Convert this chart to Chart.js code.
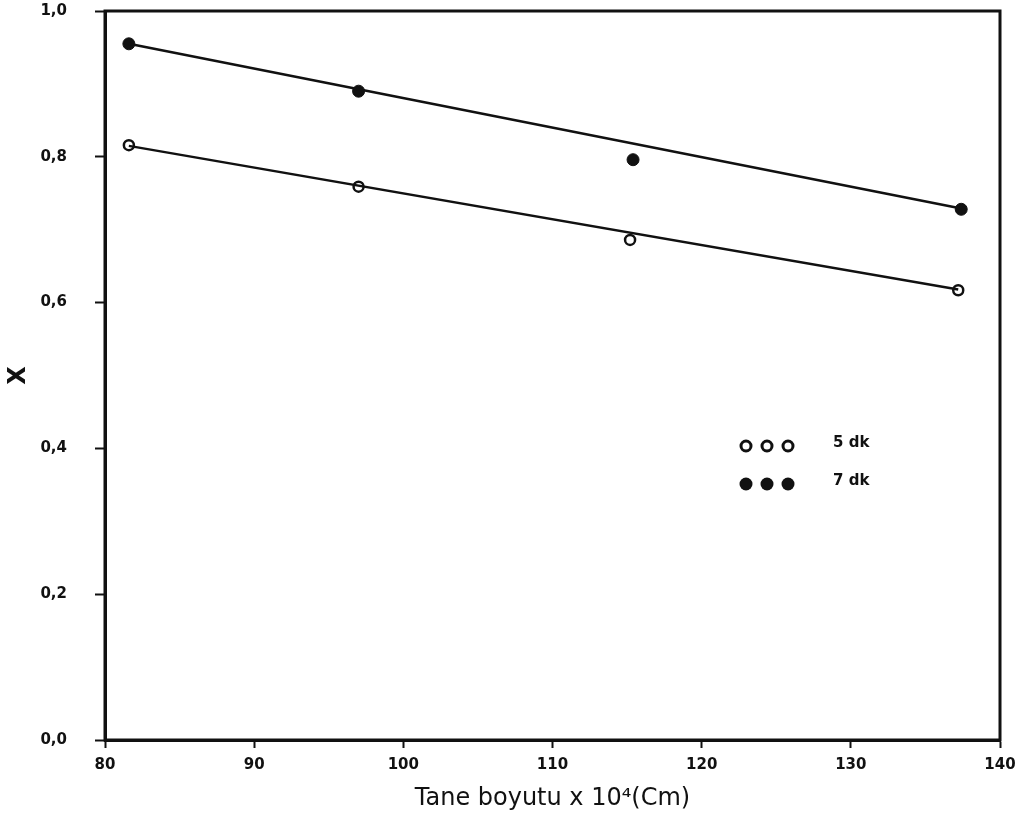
<!DOCTYPE html>
<html>
<head>
<meta charset="utf-8">
<script src="https://cdn.jsdelivr.net/npm/chart.js@4.4.0/dist/chart.umd.min.js"></script>
<style>
  html, body { margin: 0; padding: 0; background: #fff; }
  #wrap { width: 1025px; height: 821px; }
</style>
</head>
<body>
<div id="wrap"><canvas id="out"></canvas></div>
<script>
const size5 = [81.6, 97.0, 115.2, 137.2];
const conv5 = [0.816, 0.759, 0.686, 0.617];
const size7 = [81.6, 97.0, 115.4, 137.4];
const conv7 = [0.955, 0.890, 0.796, 0.728];

// hand-drawn fit lines (end points)
const fit5x = [81.6, 137.2];
const fit5y = [0.815, 0.618];
const fit7x = [81.6, 137.4];
const fit7y = [0.955, 0.729];

const xTicks = [80, 90, 100, 110, 120, 130, 140];
const yTicks = [0.0, 0.2, 0.4, 0.6, 0.8, 1.0];

const legendNames = ["5 dk", "7 dk"];

function pairs(xs, ys) {
  return xs.map((x, i) => ({ x, y: ys[i] }));
}

const INK = "#111";
const font = "'DejaVu Sans', sans-serif";

// frame round the plot + the marker key inside it
const framePlugin = {
  id: "frame",
  afterDraw(chart) {
    const { ctx, chartArea: a } = chart;
    ctx.save();
    ctx.strokeStyle = INK;
    ctx.lineWidth = 3;
    ctx.strokeRect(a.left, a.top, a.right - a.left, a.bottom - a.top);

    // key
    const kx = a.left + 641, ky = a.top + 435;
    for (let row = 0; row < 2; row++) {
      for (let k = 0; k < 3; k++) {
        ctx.beginPath();
        ctx.arc(kx + k * 21, ky + row * 38, row ? 6.5 : 5, 0, Math.PI * 2);
        if (row) {
          ctx.fillStyle = INK;
          ctx.fill();
        } else {
          ctx.lineWidth = 3;
          ctx.fillStyle = "#fff";
          ctx.fill();
          ctx.stroke();
        }
      }
      ctx.fillStyle = INK;
      ctx.font = "bold 15px " + font;
      ctx.textBaseline = "middle";
      ctx.fillText(legendNames[row], kx + 87, ky + row * 38 - 3);
    }
    ctx.restore();
  }
};

const chartConfig = {
  type: "scatter",
  data: {
    datasets: [
      {
        label: "5 dk fit",
        data: pairs(fit5x, fit5y),
        showLine: true,
        borderColor: INK,
        borderWidth: 2.5,
        pointRadius: 0
      },
      {
        label: "7 dk fit",
        data: pairs(fit7x, fit7y),
        showLine: true,
        borderColor: INK,
        borderWidth: 2.5,
        pointRadius: 0
      },
      {
        label: "5 dk",
        data: pairs(size5, conv5),
        pointRadius: 5,
        pointBorderWidth: 2.5,
        pointBorderColor: INK,
        pointBackgroundColor: "#fff"
      },
      {
        label: "7 dk",
        data: pairs(size7, conv7),
        pointRadius: 6,
        pointBorderWidth: 1,
        pointBorderColor: INK,
        pointBackgroundColor: INK
      }
    ]
  },
  options: {
    responsive: true,
    maintainAspectRatio: false,
    animation: false,
    layout: { padding: { left: 4, right: 25, top: 11, bottom: 8 } },
    plugins: {
      legend: { display: false },
      tooltip: { enabled: false }
    },
    scales: {
      x: {
        type: "linear",
        min: 80,
        max: 140,
        afterBuildTicks: s => { s.ticks = xTicks.map(v => ({ value: v })); },
        afterFit: s => { s.height = 73; },
        grid: { drawOnChartArea: false, drawTicks: true, tickLength: 8, tickColor: INK, tickWidth: 2 },
        border: { display: true, color: INK, width: 3 },
        ticks: { color: INK, padding: 8, font: { family: font, size: 15, weight: "bold" } },
        title: {
          display: true,
          text: "Tane boyutu x 10\u2074(Cm)",
          color: INK,
          padding: { top: 2, bottom: 0 },
          font: { family: font, size: 24 }
        }
      },
      y: {
        type: "linear",
        min: 0,
        max: 1.0,
        afterBuildTicks: s => { s.ticks = yTicks.map(v => ({ value: v })); },
        // tick padding would otherwise push the plot top down
        afterFit: s => { s.width = 101; s.paddingTop = 0; s.paddingBottom = 0; },
        grid: { drawOnChartArea: false, drawTicks: true, tickLength: 10, tickColor: INK, tickWidth: 2 },
        border: { display: true, color: INK, width: 3 },
        ticks: {
          color: INK,
          padding: 28,
          font: { family: font, size: 15, weight: "bold" },
          callback: v => v.toFixed(1).replace(".", ",")
        },
        title: {
          display: true,
          text: "X",
          color: INK,
          padding: { top: 0, bottom: 0 },
          font: { family: font, size: 24, weight: "bold" }
        }
      }
    }
  },
  plugins: [framePlugin]
};

window.chart = new Chart(document.getElementById("out").getContext("2d"), chartConfig);
</script>
</body>
</html>
